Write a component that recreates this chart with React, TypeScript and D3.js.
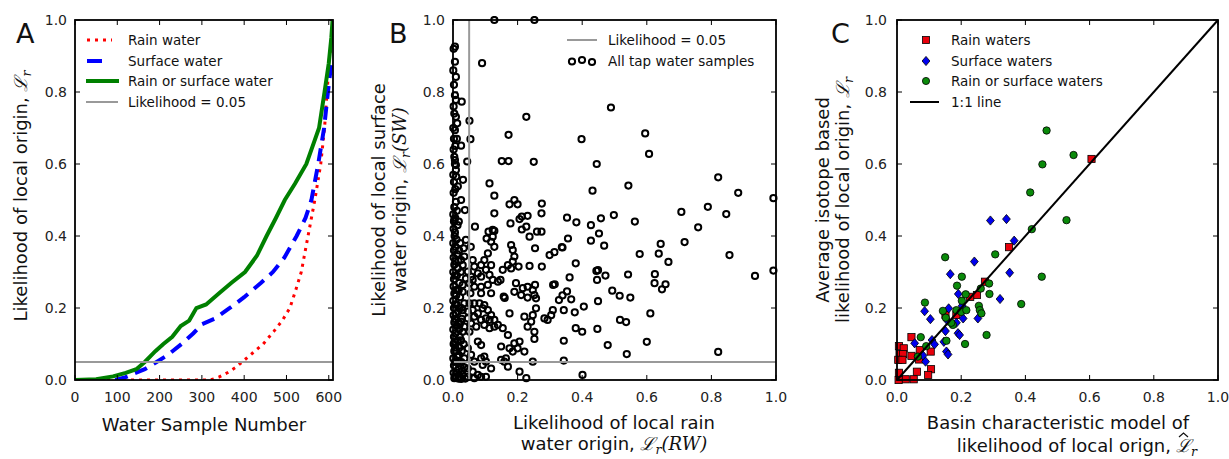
import React from 'react';
import * as d3 from 'd3';

// ---------- Panel A: sorted likelihood curves (sample number, likelihood) ----------
const rainCurve: [number, number][] = [
  [0, 0], [320, 0], [340, 0.008], [360, 0.02], [380, 0.035], [395, 0.05], [420, 0.075], [445, 0.1],
  [470, 0.135], [490, 0.165], [508, 0.2], [522, 0.25], [535, 0.3], [551, 0.4], [567, 0.5], [581, 0.6],
  [590, 0.7], [596, 0.8], [602, 0.9], [606, 0.93],
];
const surfaceCurve: [number, number][] = [
  [95, 0], [120, 0.008], [140, 0.018], [165, 0.03], [193, 0.05], [220, 0.07], [252, 0.1], [280, 0.13],
  [300, 0.155], [330, 0.17], [366, 0.2], [400, 0.23], [440, 0.27], [468, 0.3], [495, 0.34], [524, 0.4],
  [545, 0.45], [559, 0.5], [575, 0.6], [589, 0.7], [598, 0.8], [604, 0.86], [607, 0.88],
];
const eitherCurve: [number, number][] = [
  [0, 0], [50, 0.002], [90, 0.01], [120, 0.02], [145, 0.03], [165, 0.05], [190, 0.08], [209, 0.1],
  [230, 0.12], [250, 0.15], [270, 0.165], [287, 0.2], [310, 0.21], [340, 0.24], [370, 0.27], [402, 0.3],
  [430, 0.345], [453, 0.4], [475, 0.45], [496, 0.5], [520, 0.545], [547, 0.6], [565, 0.66], [577, 0.7],
  [590, 0.8], [600, 0.88], [606, 0.95], [609, 1.0],
];
const sampleTicks = [0, 100, 200, 300, 400, 500, 600];
const unitTicks = [0, 0.2, 0.4, 0.6, 0.8, 1.0];
const threshold = 0.05;

// ---------- Panel B: tap water samples [L(RW), L(SW)] ----------
const tapSamples: [number, number][] = [
  [0.128, 1.0], [0.252, 1.0], [0.006, 0.926], [0.09, 0.88], [0.006, 0.884], [0.009, 0.842], [0.006, 0.791],
  [0.027, 0.773], [0.009, 0.778], [0.009, 0.731], [0.013, 0.713], [0.051, 0.72], [0.006, 0.694], [0.054, 0.669],
  [0.025, 0.651], [0.227, 0.731], [0.172, 0.681], [0.006, 0.611], [0.009, 0.597], [0.044, 0.607], [0.009, 0.583],
  [0.151, 0.608], [0.172, 0.608], [0.25, 0.606], [0.031, 0.556], [0.015, 0.538], [0.025, 0.5], [0.009, 0.495],
  [0.113, 0.546], [0.128, 0.512], [0.19, 0.5], [0.175, 0.488], [0.2, 0.488], [0.275, 0.49],
  [0.037, 0.472], [0.068, 0.426], [0.128, 0.463], [0.213, 0.454], [0.206, 0.447], [0.231, 0.456], [0.178, 0.435],
  [0.213, 0.418], [0.227, 0.426], [0.26, 0.412], [0.237, 0.398], [0.11, 0.412], [0.123, 0.417], [0.128, 0.414],
  [0.104, 0.393], [0.118, 0.384], [0.123, 0.398], [0.04, 0.389], [0.055, 0.37], [0.033, 0.366], [0.128, 0.37],
  [0.108, 0.352], [0.18, 0.375], [0.185, 0.361], [0.19, 0.343], [0.185, 0.329], [0.254, 0.366], [0.299, 0.347],
  [0.314, 0.355], [0.035, 0.343], [0.025, 0.333], [0.03, 0.319], [0.061, 0.333], [0.066, 0.315], [0.097, 0.333],
  [0.087, 0.319], [0.118, 0.319], [0.102, 0.306], [0.17, 0.319], [0.154, 0.306], [0.18, 0.31], [0.203, 0.315],
  [0.237, 0.317], [0.275, 0.315], [0.046, 0.301], [0.056, 0.287], [0.04, 0.282], [0.061, 0.278], [0.077, 0.296],
  [0.087, 0.287], [0.113, 0.292], [0.123, 0.278], [0.139, 0.273], [0.147, 0.278], [0.03, 0.264], [0.051, 0.269],
  [0.066, 0.259], [0.087, 0.259], [0.108, 0.264], [0.03, 0.245], [0.054, 0.241], [0.087, 0.241], [0.118, 0.241],
  [0.157, 0.232], [0.16, 0.228], [0.195, 0.269], [0.216, 0.255], [0.231, 0.259], [0.254, 0.264], [0.247, 0.25],
  [0.19, 0.245], [0.252, 0.236], [0.257, 0.227], [0.211, 0.236], [0.231, 0.229], [0.035, 0.213], [0.051, 0.213],
  [0.066, 0.213], [0.082, 0.213], [0.097, 0.208], [0.03, 0.194], [0.046, 0.19], [0.061, 0.194], [0.077, 0.185],
  [0.092, 0.199], [0.108, 0.194], [0.118, 0.18], [0.087, 0.167], [0.102, 0.171], [0.113, 0.167], [0.128, 0.167],
  [0.066, 0.176], [0.046, 0.171], [0.025, 0.162], [0.035, 0.148], [0.056, 0.157], [0.072, 0.148], [0.03, 0.134],
  [0.051, 0.134], [0.175, 0.185], [0.139, 0.153], [0.154, 0.144], [0.097, 0.153], [0.113, 0.144], [0.128, 0.148],
  [0.221, 0.176], [0.247, 0.18], [0.257, 0.199], [0.242, 0.162], [0.231, 0.148], [0.252, 0.134], [0.252, 0.114],
  [0.293, 0.167], [0.283, 0.171], [0.304, 0.18], [0.309, 0.194], [0.17, 0.125], [0.077, 0.107], [0.087, 0.097],
  [0.149, 0.093], [0.175, 0.088], [0.19, 0.102], [0.2, 0.088], [0.206, 0.107], [0.221, 0.079], [0.185, 0.079],
  [0.046, 0.088], [0.056, 0.07], [0.035, 0.06], [0.066, 0.051], [0.087, 0.06], [0.097, 0.065], [0.102, 0.051],
  [0.092, 0.042], [0.118, 0.032], [0.149, 0.056], [0.159, 0.051], [0.164, 0.06], [0.17, 0.037], [0.247, 0.051],
  [0.206, 0.023], [0.227, 0.005], [0.046, 0.032], [0.061, 0.023], [0.077, 0.014], [0.087, 0.009], [0.102, 0.009],
  [0.066, 0.005], [0.046, 0.009], [0.03, 0.014],
  [0.274, 0.463], [0.274, 0.412], [0.339, 0.368], [0.356, 0.393], [0.427, 0.387], [0.452, 0.407], [0.468, 0.373],
  [0.353, 0.451], [0.382, 0.438], [0.427, 0.43], [0.458, 0.449], [0.498, 0.458], [0.563, 0.44], [0.343, 0.194],
  [0.377, 0.188], [0.405, 0.204], [0.449, 0.219], [0.366, 0.224], [0.353, 0.246], [0.339, 0.235], [0.328, 0.222],
  [0.31, 0.264], [0.315, 0.266], [0.361, 0.285], [0.38, 0.324], [0.444, 0.303], [0.449, 0.305], [0.446, 0.278],
  [0.472, 0.29], [0.493, 0.248], [0.516, 0.234], [0.549, 0.229], [0.542, 0.293], [0.517, 0.167], [0.536, 0.161],
  [0.578, 0.35], [0.538, 0.072], [0.343, 0.054], [0.401, 0.014], [0.6, 0.106], [0.479, 0.097], [0.343, 0.109],
  [0.447, 0.142], [0.38, 0.144], [0.4, 0.134],
  [0.489, 0.757], [0.398, 0.669], [0.595, 0.685], [0.607, 0.628], [0.445, 0.6], [0.821, 0.563], [0.543, 0.54],
  [0.883, 0.52], [0.432, 0.526], [0.992, 0.505], [0.707, 0.467], [0.789, 0.481], [0.846, 0.461], [0.759, 0.424],
  [0.717, 0.383], [0.643, 0.378], [0.637, 0.351], [0.667, 0.328], [0.856, 0.347], [0.935, 0.289], [0.992, 0.304],
  [0.625, 0.294], [0.624, 0.269], [0.658, 0.266], [0.647, 0.252], [0.611, 0.185], [0.821, 0.078], [0.337, 0.369],
  [0.002, 0.92], [0.001, 0.86], [0.003, 0.82], [0.002, 0.76], [0.004, 0.74], [0.001, 0.7], [0.003, 0.67],
  [0.002, 0.64], [0.004, 0.62], [0.001, 0.57], [0.003, 0.55], [0.002, 0.52], [0.004, 0.48], [0.001, 0.46],
  [0.003, 0.44], [0.002, 0.42], [0.005, 0.4], [0.001, 0.38], [0.003, 0.36], [0.002, 0.34], [0.004, 0.32],
  [0.001, 0.3], [0.003, 0.28], [0.002, 0.26], [0.004, 0.24], [0.001, 0.22], [0.003, 0.2], [0.002, 0.18],
  [0.004, 0.16], [0.001, 0.14], [0.003, 0.12], [0.002, 0.1], [0.004, 0.08], [0.001, 0.06], [0.003, 0.04],
  [0.002, 0.02], [0.004, 0.005], [0.012, 0.47], [0.014, 0.43], [0.011, 0.39], [0.013, 0.35], [0.015, 0.31],
  [0.012, 0.29], [0.014, 0.25], [0.011, 0.21], [0.016, 0.19], [0.012, 0.15], [0.014, 0.11], [0.011, 0.08],
  [0.015, 0.05], [0.012, 0.02], [0.016, 0.004], [0.02, 0.27], [0.022, 0.23], [0.019, 0.2], [0.021, 0.12],
  [0.02, 0.09], [0.023, 0.04], [0.019, 0.01], [0.024, 0.3], [0.022, 0.38],
  [0.007, 0.45], [0.006, 0.41], [0.008, 0.37], [0.007, 0.33], [0.006, 0.29], [0.008, 0.25], [0.007, 0.21],
  [0.006, 0.17], [0.008, 0.13], [0.007, 0.09], [0.006, 0.05], [0.008, 0.01], [0.007, 0.65], [0.006, 0.6],
  [0.007, 0.53], [0.018, 0.44], [0.019, 0.36], [0.017, 0.33], [0.018, 0.25], [0.017, 0.16], [0.019, 0.14],
  [0.018, 0.07], [0.017, 0.03], [0.026, 0.2], [0.027, 0.17], [0.025, 0.11], [0.027, 0.08], [0.026, 0.05],
  [0.028, 0.025], [0.025, 0.003], [0.033, 0.1], [0.035, 0.035], [0.038, 0.004], [0.01, 0.565], [0.012, 0.67],
  [0.004, 0.445], [0.01, 0.235], [0.009, 0.185], [0.013, 0.065], [0.005, 0.105], [0.021, 0.155],
];

// ---------- Panel C: [model likelihood, isotope likelihood] ----------
const rainWaters: [number, number][] = [
  [0.606, 0.614], [0.349, 0.369], [0.274, 0.273], [0.249, 0.236], [0.228, 0.231], [0.185, 0.181], [0.151, 0.181],
  [0.045, 0.119], [0.006, 0.094], [0.021, 0.088], [0.008, 0.072], [0.019, 0.072], [0.004, 0.056], [0.017, 0.056],
  [0.045, 0.067], [0.071, 0.083], [0.069, 0.057], [0.105, 0.079], [0.106, 0.03], [0.097, 0.014], [0.062, 0.023],
  [0.052, 0.002], [0.027, 0.002], [0.006, 0.02], [0.005, 0.0],
];
const surfaceWaters: [number, number][] = [
  [0.291, 0.443], [0.341, 0.447], [0.365, 0.387], [0.241, 0.329], [0.351, 0.298], [0.166, 0.294], [0.321, 0.225],
  [0.191, 0.239], [0.086, 0.191], [0.104, 0.169], [0.161, 0.199], [0.157, 0.165], [0.206, 0.171], [0.252, 0.171],
  [0.151, 0.136], [0.19, 0.13], [0.195, 0.125], [0.185, 0.159], [0.203, 0.206], [0.055, 0.102], [0.109, 0.111],
  [0.117, 0.099], [0.146, 0.106], [0.154, 0.079], [0.159, 0.071], [0.081, 0.068], [0.089, 0.051],
];
const eitherWaters: [number, number][] = [
  [0.466, 0.693], [0.55, 0.625], [0.453, 0.599], [0.415, 0.521], [0.528, 0.444], [0.42, 0.419], [0.306, 0.349],
  [0.15, 0.341], [0.451, 0.287], [0.202, 0.287], [0.187, 0.262], [0.287, 0.268], [0.261, 0.254], [0.288, 0.239],
  [0.214, 0.238], [0.202, 0.22], [0.387, 0.211], [0.087, 0.215], [0.143, 0.192], [0.185, 0.194], [0.2, 0.189],
  [0.216, 0.194], [0.255, 0.206], [0.258, 0.194], [0.263, 0.185], [0.152, 0.173], [0.174, 0.153], [0.169, 0.159],
  [0.154, 0.109], [0.212, 0.1], [0.279, 0.125], [0.074, 0.119], [0.091, 0.094], [0.065, 0.065],
];

const FONT = 'DejaVu Sans, Verdana, sans-serif';
const TOP = 20;
const BOTTOM = 380;

type Scale = d3.ScaleLinear<number, number>;

function Frame({ x, y, xTicks, yTicks, xFmt, labelRight }: {
  x: Scale; y: Scale; xTicks: number[]; yTicks: number[]; xFmt: (v: number) => string; labelRight: number;
}) {
  const [x0, x1] = x.range();
  const [y0, y1] = y.range();
  const tl = 5;
  return (
    <g>
      {xTicks.map((t) => (
        <g key={'xt' + t}>
          <line x1={x(t)} x2={x(t)} y1={y0} y2={y0 - tl} stroke="#000" strokeWidth={1} />
          <line x1={x(t)} x2={x(t)} y1={y1} y2={y1 + tl} stroke="#000" strokeWidth={1} />
          <text x={x(t)} y={402} textAnchor="middle" fontSize={14} fill="#222" fontFamily={FONT}>{xFmt(t)}</text>
        </g>
      ))}
      {yTicks.map((t) => (
        <g key={'yt' + t}>
          <line x1={x0} x2={x0 + tl} y1={y(t)} y2={y(t)} stroke="#000" strokeWidth={1} />
          <line x1={x1} x2={x1 - tl} y1={y(t)} y2={y(t)} stroke="#000" strokeWidth={1} />
          <text x={labelRight} y={y(t) + 5} textAnchor="end" fontSize={14} fill="#222" fontFamily={FONT}>{t.toFixed(1)}</text>
        </g>
      ))}
      <rect x={x0} y={y1} width={x1 - x0} height={y0 - y1} fill="none" stroke="#000" strokeWidth={1.8} />
    </g>
  );
}

const Lr = ({ size = 18 }: { size?: number }) => (
  <>
    <tspan fontFamily="DejaVu Serif" fontStyle="italic">ℒ</tspan>
    <tspan fontSize={size * 0.7} fontStyle="italic" fontFamily="DejaVu Serif" dy={4}>r</tspan>
  </>
);

const diamondPath = (cx: number, cy: number, h: number) =>
  `M${cx},${cy - h}L${cx + h * 0.85},${cy}L${cx},${cy + h}L${cx - h * 0.85},${cy}Z`;

export default function App() {
  const yS = d3.scaleLinear().domain([0, 1]).range([BOTTOM, TOP]);
  const xA = d3.scaleLinear().domain([0, 610]).range([75, 333]);
  const xB = d3.scaleLinear().domain([0, 1]).range([453, 776]);
  const xC = d3.scaleLinear().domain([0, 1]).range([897, 1218]);

  const lineA = d3.line<[number, number]>().x((d) => xA(d[0])).y((d) => yS(d[1]));
  const fmt1 = (v: number) => v.toFixed(1);
  const fmtInt = (v: number) => String(v);

  return (
    <svg width={1229} height={459} style={{ position: 'absolute', left: 0, top: 0, background: '#fff' }}
      fontFamily={FONT}>
      <rect x={0} y={0} width={1229} height={459} fill="#fff" />

      {/* ---------------- Panel A ---------------- */}
      <g>
        <clipPath id="clipA"><rect x={75} y={TOP} width={258} height={BOTTOM - TOP} /></clipPath>
        <g clipPath="url(#clipA)">
          <path d={lineA(rainCurve) || ''} fill="none" stroke="#ff0000" strokeWidth={3} strokeDasharray="3,5" />
          <path d={lineA(surfaceCurve) || ''} fill="none" stroke="#0000ff" strokeWidth={4} strokeDasharray="13,8" />
          <path d={lineA(eitherCurve) || ''} fill="none" stroke="#008000" strokeWidth={4} />
          <line x1={xA(0)} x2={xA(610)} y1={yS(threshold)} y2={yS(threshold)} stroke="#999" strokeWidth={2} />
        </g>
        <Frame x={xA} y={yS} xTicks={sampleTicks} yTicks={unitTicks} xFmt={fmtInt} labelRight={67} />
        <g fontSize={13.5} fill="#111">
          <line x1={87} x2={112} y1={40} y2={40} stroke="#ff0000" strokeWidth={3} strokeDasharray="3,5" />
          <text x={128} y={45}>Rain water</text>
          <line x1={87} x2={102} y1={61} y2={61} stroke="#0000ff" strokeWidth={4} />
          <text x={128} y={66}>Surface water</text>
          <line x1={86} x2={119} y1={81} y2={81} stroke="#008000" strokeWidth={4} />
          <text x={128} y={86}>Rain or surface water</text>
          <line x1={86} x2={118} y1={102} y2={102} stroke="#999" strokeWidth={2} />
          <text x={128} y={107}>Likelihood = 0.05</text>
        </g>
        <text x={16} y={43} fontSize={27} fill="#111">A</text>
        <text x={204} y={431} textAnchor="middle" fontSize={18} fill="#111">Water Sample Number</text>
        <text transform="translate(27,196) rotate(-90)" textAnchor="middle" fontSize={18} fill="#111">
          Likelihood of local origin, <Lr />
        </text>
      </g>

      {/* ---------------- Panel B ---------------- */}
      <g>
        <clipPath id="clipB"><rect x={449} y={TOP - 4} width={331} height={BOTTOM - TOP + 8} /></clipPath>
        <g clipPath="url(#clipB)">
          {tapSamples.map((d, i) => (
            <circle key={i} cx={xB(d[0])} cy={yS(d[1])} r={3.1} fill="none" stroke="#000" strokeWidth={2} />
          ))}
        </g>
        <line x1={xB(threshold)} x2={xB(threshold)} y1={yS(0)} y2={yS(1)} stroke="#999" strokeWidth={2} />
        <line x1={xB(0)} x2={xB(1)} y1={yS(threshold)} y2={yS(threshold)} stroke="#999" strokeWidth={2} />
        <Frame x={xB} y={yS} xTicks={unitTicks} yTicks={unitTicks} xFmt={fmt1} labelRight={445} />
        <g fontSize={13.5} fill="#111">
          <line x1={567} x2={597} y1={40} y2={40} stroke="#999" strokeWidth={2} />
          <text x={608} y={45}>Likelihood = 0.05</text>
          <circle cx={572} cy={61.5} r={3.1} fill="none" stroke="#000" strokeWidth={2} />
          <circle cx={582} cy={60} r={3.1} fill="none" stroke="#000" strokeWidth={2} />
          <circle cx={592} cy={62} r={3.1} fill="none" stroke="#000" strokeWidth={2} />
          <text x={608} y={66}>All tap water samples</text>
        </g>
        <text x={389} y={43} fontSize={27} fill="#111">B</text>
        <text x={614} y={429} textAnchor="middle" fontSize={18} fill="#111">Likelihood of local rain</text>
        <text x={614} y={450} textAnchor="middle" fontSize={18} fill="#111">
          water origin, <Lr /><tspan dy={-4} fontFamily="DejaVu Serif" fontStyle="italic">(RW)</tspan>
        </text>
        <text transform="translate(385,200) rotate(-90)" textAnchor="middle" fontSize={18} fill="#111">
          Likelihood of local surface
        </text>
        <text transform="translate(406,200) rotate(-90)" textAnchor="middle" fontSize={18} fill="#111">
          water origin, <Lr /><tspan dy={-4} fontFamily="DejaVu Serif" fontStyle="italic">(SW)</tspan>
        </text>
      </g>

      {/* ---------------- Panel C ---------------- */}
      <g>
        {rainWaters.map((d, i) => (
          <rect key={'r' + i} x={xC(d[0]) - 3.6} y={yS(d[1]) - 3.6} width={7.2} height={7.2}
            fill="#e8000b" stroke="#000" strokeWidth={0.8} />
        ))}
        {surfaceWaters.map((d, i) => (
          <path key={'s' + i} d={diamondPath(xC(d[0]), yS(d[1]), 4.6)}
            fill="#0000ee" stroke="#000" strokeWidth={0.8} />
        ))}
        {eitherWaters.map((d, i) => (
          <circle key={'g' + i} cx={xC(d[0])} cy={yS(d[1])} r={3.7}
            fill="#0a8a0a" stroke="#000" strokeWidth={0.8} />
        ))}
        <line x1={xC(0)} x2={xC(1)} y1={yS(0)} y2={yS(1)} stroke="#000" strokeWidth={2} />
        <Frame x={xC} y={yS} xTicks={unitTicks} yTicks={unitTicks} xFmt={fmt1} labelRight={887} />
        <g fontSize={13.5} fill="#111">
          <rect x={922.5} y={36.5} width={7} height={7} fill="#e8000b" stroke="#000" strokeWidth={0.8} />
          <text x={951} y={45}>Rain waters</text>
          <path d={diamondPath(926, 61, 4.6)} fill="#0000ee" stroke="#000" strokeWidth={0.8} />
          <text x={951} y={66}>Surface waters</text>
          <circle cx={926} cy={81} r={3.6} fill="#0a8a0a" stroke="#000" strokeWidth={0.8} />
          <text x={951} y={86}>Rain or surface waters</text>
          <line x1={910} x2={939} y1={102} y2={102} stroke="#000" strokeWidth={2} />
          <text x={951} y={107}>1:1 line</text>
        </g>
        <text x={831} y={43} fontSize={27} fill="#111">C</text>
        <text x={1058} y={429} textAnchor="middle" fontSize={18} fill="#111">Basin characteristic model of</text>
        <text x={1171} y={452} textAnchor="end" fontSize={18} fill="#111">likelihood of local orign,</text>
        <text x={1176} y={452} fontSize={18} fill="#111">
          <tspan fontFamily="DejaVu Serif" fontStyle="italic">ℒ</tspan>
          <tspan fontSize={12.6} fontStyle="italic" fontFamily="DejaVu Serif" dy={4}>r</tspan>
        </text>
        <path d="M1179,437 L1183.5,433 L1188,437" fill="none" stroke="#111" strokeWidth={1.2} />
        <text transform="translate(829,200) rotate(-90)" textAnchor="middle" fontSize={18} fill="#111">
          Average isotope based
        </text>
        <text transform="translate(849,200) rotate(-90)" textAnchor="middle" fontSize={18} fill="#111">
          likelihood of local origin, <Lr />
        </text>
      </g>
    </svg>
  );
}
